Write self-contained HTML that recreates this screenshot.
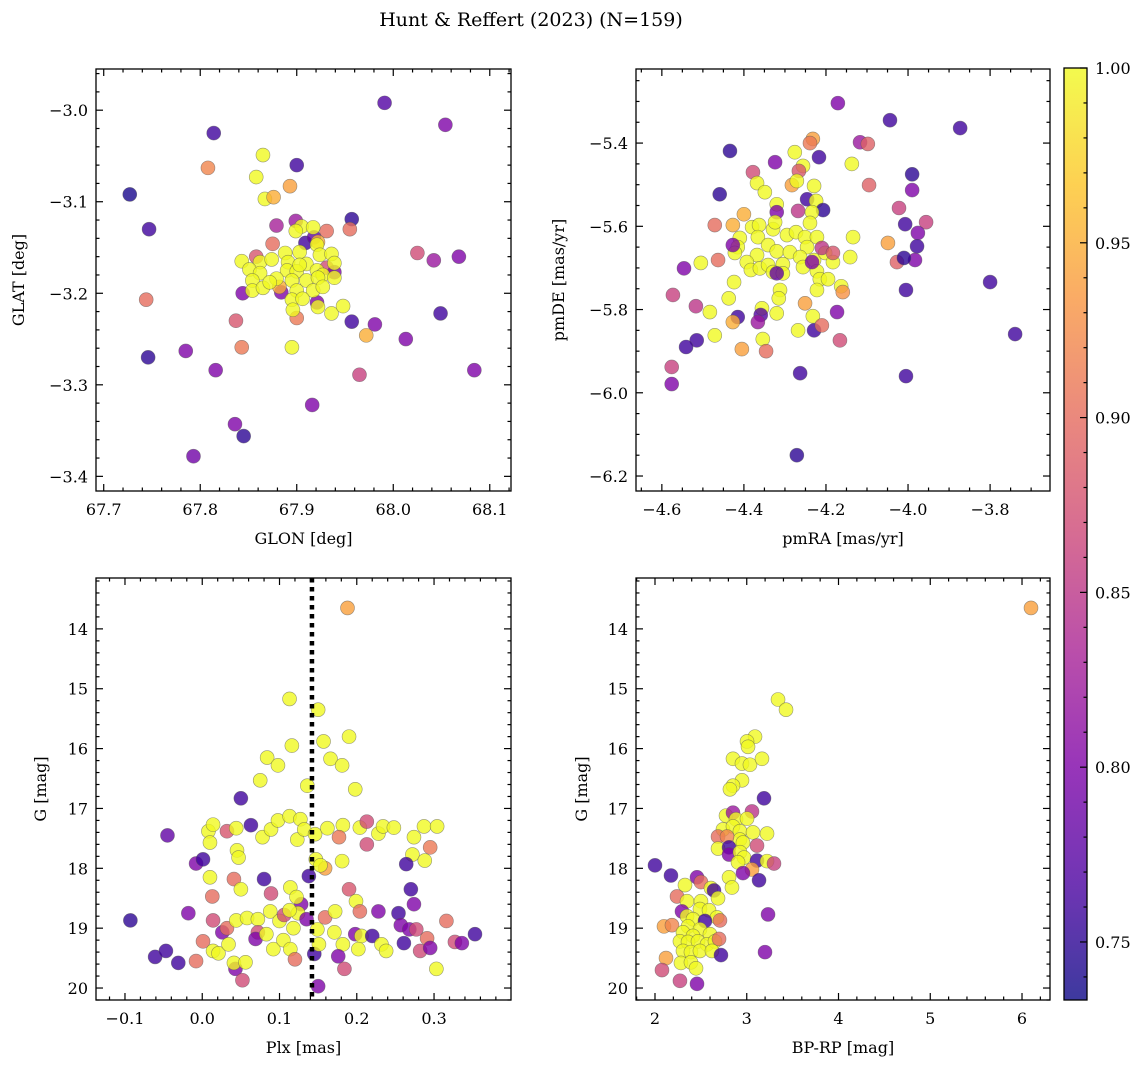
<!DOCTYPE html>
<html><head><meta charset="utf-8">
<style>
body{margin:0;background:#fff;}
svg{display:block;font-family:"DejaVu Serif","Liberation Serif",serif;}
</style></head>
<body>
<svg id="chart" width="1148" height="1068" xmlns="http://www.w3.org/2000/svg">
<defs>
<linearGradient id="plasmaGrad" x1="0" y1="1" x2="0" y2="0">
<stop offset="0" stop-color="#0d0887"/><stop offset="0.125" stop-color="#4c02a1"/><stop offset="0.25" stop-color="#7e03a8"/><stop offset="0.375" stop-color="#a92395"/><stop offset="0.5" stop-color="#cc4778"/><stop offset="0.625" stop-color="#e56b5d"/><stop offset="0.75" stop-color="#f89540"/><stop offset="0.875" stop-color="#fdc527"/><stop offset="1" stop-color="#f0f921"/>
</linearGradient>
</defs>
<text x="531" y="26" font-size="19" text-anchor="middle">Hunt &amp; Reffert (2023) (N=159)</text>
</svg>
<script>
// ---------- data ----------
const p1Glon=[67.727,67.744,67.747,67.746,67.785,67.814,67.816,67.793,67.808,67.836,67.845,67.837,67.843,67.865,67.858,67.867,67.876,67.893,67.900,67.991,68.054,68.025,68.042,68.068,68.013,68.049,68.084,67.981,67.972,67.965,67.916,67.895,67.900,67.957,67.879,67.899,67.957,67.955,67.931,67.875,67.909,67.918,67.922,67.858,67.844,67.884,67.882,67.931,67.939,67.921,67.905,67.917,67.899,67.921,67.903,67.888,67.924,67.936,67.843,67.862,67.874,67.891,67.910,67.939,67.851,67.862,67.890,67.900,67.921,67.927,67.854,67.879,67.895,67.910,67.922,67.939,67.854,67.865,67.900,67.917,67.927,67.895,67.906,67.896,67.922,67.936,67.948,67.872,67.903];
const p1Glat=[-3.092,-3.207,-3.130,-3.270,-3.263,-3.025,-3.284,-3.378,-3.063,-3.343,-3.356,-3.230,-3.259,-3.049,-3.073,-3.097,-3.095,-3.083,-3.060,-2.992,-3.016,-3.156,-3.164,-3.160,-3.250,-3.222,-3.284,-3.234,-3.246,-3.289,-3.322,-3.259,-3.227,-3.231,-3.126,-3.121,-3.119,-3.130,-3.132,-3.146,-3.145,-3.139,-3.144,-3.160,-3.200,-3.199,-3.193,-3.172,-3.177,-3.210,-3.127,-3.128,-3.132,-3.147,-3.155,-3.156,-3.158,-3.157,-3.165,-3.166,-3.163,-3.166,-3.168,-3.167,-3.174,-3.178,-3.175,-3.176,-3.175,-3.180,-3.186,-3.184,-3.186,-3.186,-3.183,-3.183,-3.197,-3.194,-3.197,-3.197,-3.193,-3.207,-3.206,-3.218,-3.215,-3.222,-3.214,-3.188,-3.169];
const p1Prob=[.74,.90,.76,.75,.80,.76,.80,.79,.92,.80,.75,.88,.91,1,1,1,.95,.94,.76,.77,.80,.87,.82,.80,.80,.76,.80,.80,.95,.86,.80,1,.91,.76,.83,.82,.75,.90,.90,.90,.76,.78,.95,.88,.80,.80,.95,.87,.80,.80,1,1,1,1,1,1,1,1,1,1,1,1,1,1,1,1,1,1,1,1,1,1,1,1,1,1,1,1,1,1,1,1,1,1,1,1,1,1,1];

const p2Pmra=[-4.434,-4.324,-4.378,-4.276,-4.232,-4.239,-4.217,-4.117,-4.098,-4.137,-4.256,-4.266,-4.368,-4.349,-4.283,-4.271,-4.229,-4.095,-4.459,-4.246,-4.224,-4.207,-4.320,-4.320,-4.268,-4.234,-4.400,-4.471,-4.427,-4.380,-4.363,-4.329,-4.324,-4.295,-4.273,-4.251,-4.239,-4.222,-4.410,-4.366,-4.415,-4.422,-4.341,-4.320,-4.288,-4.246,-4.263,-4.368,-4.393,-4.383,-4.361,-4.341,-4.329,-4.305,-4.305,-4.256,-4.229,-4.202,-4.183,-4.141,-4.134,-4.505,-4.222,-4.215,-4.195,-4.424,-4.312,-4.315,-4.437,-4.222,-4.163,-4.356,-4.320,-4.483,-4.232,-4.268,-4.471,-4.354,-4.427,-4.463,-4.210,-4.183,-4.320,-4.234,-4.159,-4.251,-4.517,-4.415,-4.359,-4.427,-4.366,-4.173,-4.229,-4.210,-4.166,-4.515,-4.049,-4.171,-4.044,-3.873,-3.990,-3.990,-4.022,-4.007,-3.956,-3.976,-4.027,-3.978,-3.983,-4.010,-4.005,-4.005,-3.800,-3.739,-4.271,-4.263,-4.576,-4.576,-4.546,-4.573,-4.541,-4.405,-4.346];
const p2Pmde=[-5.419,-5.446,-5.470,-5.422,-5.390,-5.400,-5.434,-5.398,-5.402,-5.450,-5.455,-5.467,-5.496,-5.518,-5.501,-5.491,-5.503,-5.501,-5.523,-5.535,-5.539,-5.561,-5.547,-5.566,-5.563,-5.566,-5.571,-5.597,-5.597,-5.602,-5.597,-5.607,-5.590,-5.621,-5.614,-5.626,-5.592,-5.626,-5.628,-5.626,-5.650,-5.664,-5.645,-5.660,-5.662,-5.650,-5.674,-5.669,-5.686,-5.705,-5.701,-5.693,-5.710,-5.691,-5.713,-5.698,-5.681,-5.664,-5.686,-5.674,-5.626,-5.688,-5.708,-5.727,-5.727,-5.734,-5.753,-5.773,-5.773,-5.753,-5.744,-5.797,-5.809,-5.806,-5.816,-5.850,-5.862,-5.871,-5.645,-5.681,-5.652,-5.664,-5.713,-5.686,-5.758,-5.785,-5.792,-5.818,-5.813,-5.830,-5.830,-5.806,-5.850,-5.838,-5.874,-5.874,-5.640,-5.304,-5.345,-5.364,-5.475,-5.513,-5.556,-5.595,-5.590,-5.616,-5.686,-5.648,-5.681,-5.676,-5.753,-5.960,-5.734,-5.859,-6.150,-5.953,-5.938,-5.979,-5.701,-5.765,-5.890,-5.895,-5.900];
const p2Prob=[.75,.80,.87,1,.94,.91,.76,.82,.89,1,1,.88,1,1,.94,1,1,.89,.75,.76,1,.75,1,.80,.85,1,.95,.90,.95,1,1,1,1,1,1,1,1,1,1,1,1,1,1,1,1,1,1,1,1,1,1,1,1,1,1,1,1,1,1,1,1,1,1,1,1,1,1,1,1,1,1,1,1,1,1,1,1,1,.80,.90,.85,.88,.78,.80,.93,.94,.85,.76,.77,.95,.82,.80,.76,.90,.87,.76,.94,.80,.76,.76,.75,.80,.86,.76,.86,.80,.89,.76,.80,.75,.76,.76,.76,.76,.75,.76,.86,.80,.80,.86,.76,.94,.90];

const p3Plx=[-0.093,0.188,0.113,0.150,0.157,0.190,0.084,0.098,0.116,0.166,0.181,0.136,0.075,0.198,0.050,-0.045,0.008,0.014,0.010,0.032,0.044,0.063,0.078,0.089,0.098,0.113,0.127,0.123,0.132,0.146,0.162,0.182,0.204,0.177,0.213,0.213,0.228,0.234,0.248,0.274,0.287,0.304,0.272,0.295,0.288,0.264,0.270,-0.008,0.001,0.045,0.047,0.010,0.041,0.080,0.138,0.147,0.159,0.153,0.181,0.190,0.199,0.013,0.050,0.089,0.128,0.114,0.122,0.124,0.159,0.172,0.204,0.228,0.254,0.257,0.268,0.274,0.291,0.277,0.316,-0.018,0.014,0.026,0.032,0.044,0.058,0.072,0.072,0.088,0.100,0.106,0.113,0.118,0.135,0.149,0.171,0.182,0.198,0.206,0.220,0.232,0.261,0.282,0.295,0.327,0.336,0.353,0.303,-0.061,-0.047,-0.031,-0.008,0.001,0.014,0.021,0.043,0.041,0.056,0.052,0.069,0.092,0.105,0.114,0.120,0.145,0.150,0.176,0.202,0.238,0.184,0.151,0.083,0.034];
const p3G=[18.87,13.65,15.17,15.35,15.88,15.80,16.15,16.28,15.95,16.17,16.28,16.62,16.53,16.68,16.83,17.45,17.38,17.27,17.57,17.38,17.33,17.28,17.48,17.35,17.20,17.13,17.18,17.52,17.35,17.43,17.33,17.28,17.32,17.48,17.22,17.60,17.42,17.30,17.32,17.48,17.30,17.30,17.77,17.65,17.87,17.93,18.35,17.92,17.85,17.70,17.82,18.15,18.18,18.18,18.13,17.85,18.00,17.95,17.88,18.35,18.55,18.47,18.35,18.42,18.60,18.32,18.48,18.75,18.82,18.72,18.72,18.72,18.75,18.95,19.02,18.60,19.17,19.02,18.88,18.75,18.87,19.07,19.00,18.87,18.83,18.85,19.07,18.72,18.88,18.78,18.70,19.00,18.85,19.02,19.07,19.27,19.10,19.13,19.13,19.27,19.25,19.38,19.33,19.23,19.25,19.10,19.68,19.48,19.38,19.58,19.55,19.22,19.38,19.42,19.68,19.58,19.57,19.87,19.18,19.35,19.20,19.35,19.52,19.43,19.97,19.47,19.35,19.38,19.68,19.27,19.10,19.27];
const p3Prob=[.75,.94,1,1,1,1,1,1,1,1,1,1,1,1,.76,.78,1,1,1,.88,1,.76,1,1,1,1,1,1,1,1,1,1,1,.91,.87,.87,1,1,1,1,1,1,1,.91,1,.76,.76,.80,.76,1,1,1,.90,.76,.76,1,.94,1,1,.88,1,.90,1,.87,.80,1,1,1,.90,1,.90,.80,.76,.80,.80,.80,.90,.87,.90,.80,.87,.80,.90,1,1,1,.87,1,1,.87,1,1,.80,1,1,1,.80,1,.76,1,.76,.87,.80,.87,.80,.76,1,.76,.76,.76,.90,.90,1,1,.80,1,1,.87,.80,1,1,1,.90,.76,.80,.80,1,1,.87,1,1,1];

const p4Bprp=[3.341,3.428,3.090,3.003,3.014,2.850,2.948,3.035,3.166,2.948,2.850,2.817,3.188,2.774,2.850,3.057,2.883,3.003,2.741,2.850,2.926,3.068,3.221,2.926,2.959,2.687,2.785,2.687,2.807,2.807,2.926,2.970,2.905,3.112,3.112,3.221,3.297,3.057,2.959,3.134,2.807,2.839,2.000,2.174,2.458,2.501,2.327,2.610,2.643,2.687,2.240,2.349,2.501,2.490,2.589,2.676,2.294,2.349,2.414,2.545,2.708,2.098,2.185,2.360,2.490,2.305,2.414,2.599,2.272,2.360,2.469,2.567,2.654,2.698,2.305,2.392,2.490,2.621,2.719,2.120,2.283,2.392,2.447,2.076,2.272,2.458,3.232,3.199,6.098];
const p4G=[15.18,15.35,15.80,15.88,15.97,16.17,16.25,16.27,16.17,16.53,16.62,16.68,16.83,17.12,17.07,17.05,17.18,17.17,17.35,17.30,17.38,17.40,17.42,17.52,17.57,17.47,17.47,17.67,17.65,17.77,17.73,17.82,17.90,17.62,17.87,17.88,17.92,18.02,18.08,18.20,18.15,18.32,17.95,18.12,18.15,18.23,18.28,18.33,18.37,18.50,18.47,18.55,18.55,18.68,18.70,18.82,18.72,18.80,18.85,18.88,18.87,18.97,18.95,18.97,19.02,19.07,19.13,19.10,19.22,19.23,19.22,19.27,19.22,19.18,19.38,19.40,19.38,19.38,19.45,19.50,19.58,19.57,19.67,19.70,19.88,19.93,18.77,19.40,13.65];
const p4Prob=[1,1,1,1,1,1,1,1,1,1,1,1,.76,1,.82,.85,1,1,1,1,1,1,1,1,1,.90,.92,1,.76,.80,1,1,1,.87,.76,1,.86,.94,.80,.76,1,1,.76,.76,.80,.90,1,1,.76,1,.90,1,1,1,1,1,.80,1,1,.76,.90,.94,.92,1,1,1,1,1,1,1,1,1,1,.90,1,1,1,1,.76,.94,1,1,1,.87,.86,.80,.80,.80,.94];

const plxLine=[0.142];
const cbTicks=[0.75,0.80,0.85,0.90,0.95,1.00];

// ---------- helpers ----------
const NS="http://www.w3.org/2000/svg";
const svg=document.getElementById('chart');
function mk(tag,attrs,parent){const e=document.createElementNS(NS,tag);for(const k in attrs)e.setAttribute(k,attrs[k]);(parent||svg).appendChild(e);return e;}
const PMIN=0.7334,PMAX=1.0;
const stops=[[13,8,135],[76,2,161],[126,3,168],[169,35,149],[204,71,120],[229,107,93],[248,149,64],[253,197,39],[240,249,33]];
function plasma(p){let t=(p-PMIN)/(PMAX-PMIN);t=Math.max(0,Math.min(1,t))*8;const i=Math.min(7,Math.floor(t)),f=t-i;const a=stops[i],b=stops[i+1];return 'rgb('+a.map((v,k)=>Math.round(v+(b[k]-v)*f)).join(',')+')';}
function fmt(v,d){const s=Math.abs(v).toFixed(d);return (v<-1e-9?'−':'')+s;}

function panel(name,L,T,W,H,xr,yr,xMaj,xMin,xDec,yMaj,yMin,yDec,invertY,xlabel,ylabel,ylabX){
  const g=mk('g',{});
  
  
  const sx=v=>L+(v-xr[0])/(xr[1]-xr[0])*W;
  const sy=invertY?(v=>T+(v-yr[0])/(yr[1]-yr[0])*H):(v=>T+H-(v-yr[0])/(yr[1]-yr[0])*H);
  const ticks=mk('g',{stroke:'#000','stroke-width':1.2},g);
  
  
  const eps=1e-9;
  for(let v=Math.ceil(xr[0]/xMin-eps)*xMin;v<=xr[1]+eps;v+=xMin){
    const major=Math.abs(v/xMaj-Math.round(v/xMaj))<1e-6;const len=major?7:3.5;const x=sx(v);
    mk('line',{x1:x,x2:x,y1:T+H,y2:T+H-len},ticks);mk('line',{x1:x,x2:x,y1:T,y2:T+len},ticks);
    if(major){const t=mk('text',{x:x,y:T+H+24,'font-size':16,'text-anchor':'middle',stroke:'none'},g);t.textContent=fmt(Math.round(v/xMaj)*xMaj,xDec);
      }
  }
  for(let v=Math.ceil(yr[0]/yMin-eps)*yMin;v<=yr[1]+eps;v+=yMin){
    const major=Math.abs(v/yMaj-Math.round(v/yMaj))<1e-6;const len=major?7:3.5;const y=sy(v);
    mk('line',{x1:L,x2:L+len,y1:y,y2:y},ticks);mk('line',{x1:L+W,x2:L+W-len,y1:y,y2:y},ticks);
    if(major){const t=mk('text',{x:L-8,y:y+6,'font-size':16,'text-anchor':'end',stroke:'none'},g);t.textContent=fmt(Math.round(v/yMaj)*yMaj,yDec);
      }
  }
  const xl=mk('text',{x:L+W/2,y:T+H+53,'font-size':16,'text-anchor':'middle'},g);xl.textContent=xlabel;
  
  const yl=mk('text',{x:ylabX,y:T+H/2,'font-size':16,'text-anchor':'middle',transform:'rotate(-90 '+ylabX+' '+(T+H/2)+')'},g);yl.textContent=ylabel;
  
  return {g,sx,sy,L,T,W,H};
}
function scatter(P,xs,ys,ps,name){
  const clip='clip-'+name;
  const cp=mk('clipPath',{id:clip});mk('rect',{x:P.L,y:P.T,width:P.W,height:P.H},cp);
  const g=mk('g',{'clip-path':'url(#'+clip+')'},P.g);
  
  
  for(let i=0;i<xs.length;i++){
    const c=mk('circle',{cx:P.sx(xs[i]),cy:P.sy(ys[i]),r:7,fill:plasma(ps[i]),'fill-opacity':0.8,stroke:'#555','stroke-opacity':0.6,'stroke-width':0.6},g);
    
    
  }
  return g;
}
function frame(P){const r=mk('rect',{x:P.L,y:P.T,width:P.W,height:P.H,fill:'none',stroke:'#000','stroke-width':1.3},P.g);
  }

// panels
const A=panel('panel-glon-glat',96,69,415,422,[67.692,68.122],[-3.416,-2.955],0.1,0.02,1,0.1,0.02,1,false,'GLON [deg]','GLAT [deg]',24);
scatter(A,p1Glon,p1Glat,p1Prob,'glon-glat');frame(A);
const B=panel('panel-pm',636,69,414,422,[-4.663,-3.654],[-6.236,-5.222],0.2,0.05,1,0.2,0.05,1,false,'pmRA [mas/yr]','pmDE [mas/yr]',564);
scatter(B,p2Pmra,p2Pmde,p2Prob,'pmra-pmde');frame(B);
const C=panel('panel-plx-g',96,578,415,422,[-0.1375,0.3996],[13.15,20.2],0.1,0.02,1,1,0.2,0,true,'Plx [mas]','G [mag]',46);
scatter(C,p3Plx,p3G,p3Prob,'plx-g');
const lx=C.sx(plxLine[0]);
const dl=mk('line',{x1:lx,x2:lx,y1:C.T,y2:C.T+C.H,stroke:'#000','stroke-width':4.5,'stroke-dasharray':'4.5 4.5'},C.g);


frame(C);
const D=panel('panel-cmd',636,578,414,422,[1.793,6.305],[13.15,20.2],1,0.2,0,1,0.2,0,true,'BP-RP [mag]','G [mag]',587);
scatter(D,p4Bprp,p4G,p4Prob,'bprp-g');frame(D);

// colorbar
const cb=mk('g',{});


const cbL=1064,cbT=68,cbW=23,cbH=932;
const cbr=mk('rect',{x:cbL,y:cbT,width:cbW,height:cbH,fill:'url(#plasmaGrad)','fill-opacity':0.8},cb);


const cy=v=>cbT+cbH-(v-PMIN)/(PMAX-PMIN)*cbH;
for(let v=0.74;v<=1.0001;v+=0.01){const y=cy(v);const maj=Math.abs(v*20-Math.round(v*20))<1e-6;
  mk('line',{x1:cbL+cbW,x2:cbL+cbW-(maj?7:3.5),y1:y,y2:y,stroke:'#000','stroke-width':1.2},cb);}
cbTicks.forEach(v=>{const t=mk('text',{x:cbL+cbW+8,y:cy(v)+6,'font-size':16},cb);t.textContent=v.toFixed(2);
  });
mk('rect',{x:cbL,y:cbT,width:cbW,height:cbH,fill:'none',stroke:'#000','stroke-width':1.3},cb);
</script>
</body></html>
